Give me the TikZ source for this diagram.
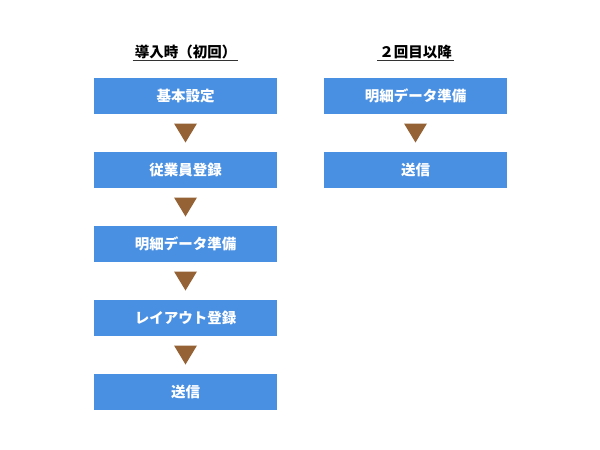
\documentclass[tikz,border=0pt]{standalone}
\usepackage{fontspec}
\newfontfamily\cjk{Noto Sans CJK JP}
\definecolor{boxblue}{HTML}{4A90E2}
\definecolor{tribrown}{HTML}{946234}
\tikzset{
  stepbox/.style={fill=boxblue, draw=none, minimum width=183pt, minimum height=36pt, inner sep=0pt,
    text=white, font=\cjk\bfseries\fontsize{14.5pt}{16pt}\selectfont},
  tri/.style={fill=tribrown, draw=none},
  title/.style={font=\cjk\bfseries\fontsize{14.5pt}{16pt}\selectfont, text=black, inner sep=1pt}
}
\begin{document}
\begin{tikzpicture}[x=1pt,y=-1pt]
\useasboundingbox (0,0) rectangle (600,450);
% titles
\node[title] (t1) at (185.5,52) {導入時（初回）};
\draw[line width=0.8pt, black!80] ([xshift=-1pt]t1.south west) -- ([xshift=1pt]t1.south east);
\node[title] (t2) at (415.5,52) {２回目以降};
\draw[line width=0.8pt, black!80] ([xshift=-1pt]t2.south west) -- ([xshift=1pt]t2.south east);
% left column
\node[stepbox] (a1) at (185.5,96) {基本設定};
\node[stepbox] (a2) at (185.5,170) {従業員登録};
\node[stepbox] (a3) at (185.5,244) {明細データ準備};
\node[stepbox] (a4) at (185.5,318) {レイアウト登録};
\node[stepbox] (a5) at (185.5,392) {送信};
% right column
\node[stepbox] (b1) at (415.5,96) {明細データ準備};
\node[stepbox] (b2) at (415.5,170) {送信};
% triangles
\foreach \u/\v in {a1/a2,a2/a3,a3/a4,a4/a5,b1/b2}{
  \path (\u.south) -- (\v.north) coordinate[pos=0.5] (m\u);
  \fill[tri] ([xshift=-11.5pt,yshift=9.5pt]m\u) -- ([xshift=11.5pt,yshift=9.5pt]m\u) -- ([yshift=-9.5pt]m\u) -- cycle;
}
\end{tikzpicture}
\end{document}
